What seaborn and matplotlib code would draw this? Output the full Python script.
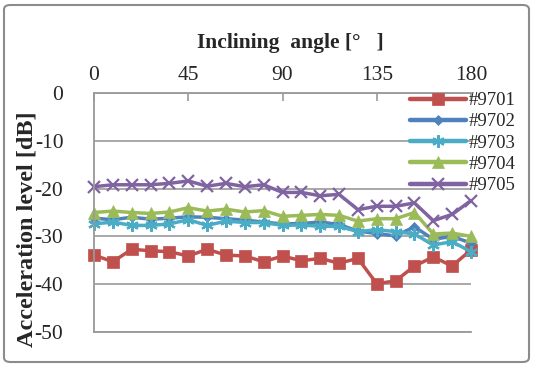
import matplotlib
matplotlib.use('Agg')
import matplotlib.pyplot as plt
from matplotlib.patches import FancyBboxPatch
import pandas as pd
import numpy as np
import seaborn as sns

angles = list(range(0, 181, 9))
sensors = ['#9701', '#9702', '#9703', '#9704', '#9705']

lvl_9701 = [-33.9, -35.3, -32.7, -33.0, -33.2, -34.1, -32.7, -33.9, -34.1, -35.3, -34.1,
            -35.1, -34.6, -35.6, -34.6, -39.9, -39.3, -36.2, -34.3, -36.2, -32.8]
lvl_9702 = [-26.2, -26.5, -26.0, -26.4, -26.2, -25.9, -26.0, -26.3, -26.6, -27.0, -27.4,
            -27.3, -27.0, -27.5, -28.9, -29.4, -29.9, -28.0, -30.6, -30.0, -31.4]
lvl_9703 = [-27.4, -27.0, -27.7, -27.7, -27.4, -26.5, -27.7, -26.8, -27.1, -27.1, -27.7,
            -27.6, -27.9, -27.9, -29.0, -28.6, -29.0, -29.5, -31.8, -31.1, -33.2]
lvl_9704 = [-25.0, -24.7, -25.0, -25.2, -24.9, -24.0, -24.7, -24.3, -24.9, -24.6, -25.8,
            -25.6, -25.4, -25.6, -26.8, -26.3, -26.3, -25.0, -29.5, -29.3, -30.0]
lvl_9705 = [-19.6, -19.2, -19.2, -19.2, -18.9, -18.4, -19.5, -18.9, -19.6, -19.2, -20.8,
            -20.8, -21.5, -21.2, -24.4, -23.7, -23.7, -23.0, -26.7, -25.4, -22.5]

colors = ['#C0504D', '#4F81BD', '#4BACC6', '#9BBB59', '#8064A2']
markers = ['s', 'D', (6, 2, 0), '^', 'x']
msizes = [9, 5.5, 9, 8, 8]

rows = []
for name, vals in zip(sensors, [lvl_9701, lvl_9702, lvl_9703, lvl_9704, lvl_9705]):
    for a, v in zip(angles, vals):
        rows.append({'angle': a, 'level': v, 'sensor': name})
df = pd.DataFrame(rows)

sns.set_style('white')
plt.rcParams['font.family'] = ['Liberation Serif', 'DejaVu Serif']

fig = plt.figure(figsize=(5.33, 3.67), dpi=100)
ax = fig.add_axes([94 / 533, 1 - 332 / 367, (471 - 94) / 533, (332 - 93) / 367])

for i, name in enumerate(sensors):
    sub = df[df['sensor'] == name]
    mew = 1.6 if i in (2, 4) else 0.5
    sns.lineplot(data=sub, x='angle', y='level', ax=ax, color=colors[i], label=name,
                 linewidth=2.5, marker=markers[i], markersize=msizes[i],
                 markeredgecolor=colors[i], markeredgewidth=mew, clip_on=False)

ax.set_xlim(0, 180)
ax.set_ylim(-50, 0)
ax.set_xticks([0, 45, 90, 135, 180])
ax.set_yticks([0, -10, -20, -30, -40, -50])
ax.set_yticklabels(['0', '-10', '-20', '-30', '-40', '-50'])
ax.xaxis.tick_top()
ax.xaxis.set_label_position('top')
ax.tick_params(axis='x', direction='in', length=6, width=1.2, color='#999999',
               labelsize=15.5, pad=6)
ax.tick_params(axis='y', length=0, labelsize=15.5, pad=22)

ax.set_xlabel('Inclining  angle [°   ]', fontsize=15.5, fontweight='bold')
ax.xaxis.set_label_coords(0.52, 1.19)
ax.set_ylabel('Acceleration level [dB]', fontsize=17.5, fontweight='bold')
ax.yaxis.set_label_coords(-0.151, 0.43)

ax.yaxis.grid(True, color='#999999', linewidth=1.2)
ax.xaxis.grid(False)
for side in ['left', 'top', 'bottom']:
    ax.spines[side].set_color('#999999')
    ax.spines[side].set_linewidth(1.3)
ax.spines['right'].set_visible(False)
ax.set_axisbelow(True)

leg = ax.legend(loc='upper left', bbox_to_anchor=(410 / 533, 1 - 92 / 367),
                bbox_transform=fig.transFigure, frameon=False, fontsize=13.5,
                handlelength=3.0, handletextpad=0.15, labelspacing=0.22,
                borderpad=0, borderaxespad=0)
for line in leg.get_lines():
    line.set_linewidth(3.2)

border = FancyBboxPatch((4 / 533, 5 / 367), 525 / 533, 357 / 367,
                        boxstyle='round,pad=0,rounding_size=0.012',
                        transform=fig.transFigure, fill=False,
                        edgecolor='#8c8c8c', linewidth=1.5)
fig.patches.append(border)

fig.savefig('out.png', dpi=100)
